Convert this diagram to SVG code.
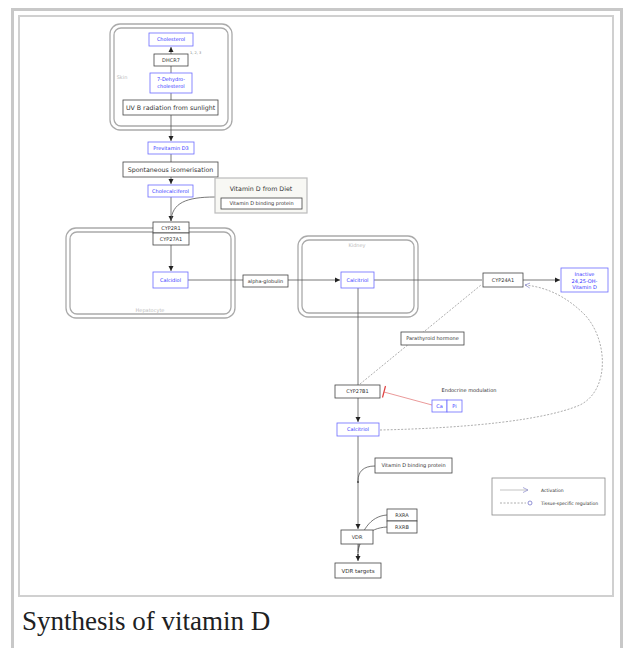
<svg xmlns="http://www.w3.org/2000/svg" width="631" height="648" viewBox="0 0 631 648">
<style>
.bx{fill:#fff;stroke:#444;stroke-width:0.8}
.bl{fill:#fff;stroke:#6b6bff;stroke-width:0.8}
.t{font-family:"DejaVu Sans",sans-serif;font-size:5px;fill:#333;text-anchor:middle}
.tb{font-family:"DejaVu Sans",sans-serif;font-size:5px;fill:#3535ff;text-anchor:middle}
.tl{font-family:"DejaVu Sans",sans-serif;font-size:6.3px;fill:#333;text-anchor:middle}
.cmp{fill:none;stroke:#aaa;stroke-width:1.3}
.cl{font-family:"DejaVu Sans",sans-serif;font-size:5px;fill:#bbb;text-anchor:middle}
.ln{fill:none;stroke:#555;stroke-width:0.8}
.dash{fill:none;stroke:#999;stroke-width:0.8;stroke-dasharray:2,1.5}
</style>
<defs>
<marker id="ah" markerWidth="6" markerHeight="6" refX="5" refY="3" orient="auto" markerUnits="userSpaceOnUse"><path d="M0,0.5 L5,3 L0,5.5 Z" fill="#222"/></marker>
<marker id="oa" markerWidth="7" markerHeight="7" refX="5" refY="3.5" orient="auto" markerUnits="userSpaceOnUse"><path d="M0,1 L5,3.5 L0,6" fill="none" stroke="#8888cc" stroke-width="0.7"/></marker>
</defs>
<rect width="631" height="648" fill="#fff"/>
<rect x="12.5" y="9.5" width="609" height="650" fill="none" stroke="#c8c8c8" stroke-width="3"/>
<rect x="19" y="16" width="594" height="580" fill="none" stroke="#d0d0d0" stroke-width="2"/>
<text x="22" y="630" font-family="Liberation Serif, serif" font-size="27" fill="#202122">Synthesis of vitamin D</text>

<g id="skin">
<rect class="cmp" x="110" y="24" width="122" height="106" rx="10"/>
<rect class="cmp" x="114" y="28" width="114" height="98" rx="7"/>
<text class="cl" x="122" y="79">Skin</text>
</g>
<g id="hepatocyte">
<rect class="cmp" x="66" y="228" width="169" height="90" rx="10"/>
<rect class="cmp" x="70" y="232" width="161" height="82" rx="7"/>
<text class="cl" x="150" y="312">Hepatocyte</text>
</g>
<g id="kidney">
<rect class="cmp" x="298" y="236" width="120" height="81" rx="10"/>
<rect class="cmp" x="302" y="240" width="112" height="73" rx="7"/>
<text class="cl" x="357" y="247">Kidney</text>
</g>

<g id="connectors">
<path class="ln" d="M171,73 V47" marker-end="url(#ah)"/>
<path class="ln" d="M171,93 V141" marker-end="url(#ah)"/>
<path class="ln" d="M171,154 V184" marker-end="url(#ah)"/>
<path class="ln" d="M171,197 V221" marker-end="url(#ah)"/>
<path class="ln" d="M215,197 C186,197 172,203 171,221"/>
<path class="ln" d="M171,245 V271" marker-end="url(#ah)"/>
<path class="ln" d="M188,280 H340" marker-end="url(#ah)"/>
<path class="ln" d="M374,280 H482"/>
<path class="ln" d="M523,280 H560" marker-end="url(#ah)"/>
<path class="ln" d="M358,288 V422" marker-end="url(#ah)"/>
<path class="dash" d="M360,384 L481,285"/>
<path d="M432,405 L384,392" fill="none" stroke="#e57f7f" stroke-width="0.8"/>
<path d="M385.5,386 L382.5,397.5" fill="none" stroke="#e04040" stroke-width="1.2"/>
<path class="dash" d="M380,430 C470,428 545,420 580,405 C610,390 608,340 585,315 C565,295 545,287 525,285" marker-end="url(#oa)"/>
<path class="ln" d="M358,436 V529" marker-end="url(#ah)"/>
<path class="ln" d="M375,466 C363,466 358,472 358,481"/>
<circle cx="358" cy="482" r="0.9" fill="#333"/>
<path class="ln" d="M358,544 V561" marker-end="url(#ah)"/>
<path class="ln" d="M387,515 C370,516 360,532 358,551"/>
<path class="ln" d="M387,527 C368,528 359,540 358,553"/>
<circle cx="358" cy="555" r="0.9" fill="#333"/>
</g>

<g id="cholesterol"><rect class="bl" x="149" y="33" width="44" height="13"/><text class="tb" x="171" y="41.3">Cholesterol</text></g>
<g id="dhcr7"><rect class="bx" x="154" y="54" width="34" height="12"/><text class="t" x="171" y="61.8">DHCR7</text><text x="190" y="54" font-family="DejaVu Sans,sans-serif" font-size="3.5" fill="#777">1, 2, 3</text></g>
<g id="dehydrocholesterol"><rect class="bl" x="150" y="73" width="42" height="20"/><text class="tb" x="171" y="81">7-Dehydro-</text><text class="tb" x="171" y="88">cholesterol</text></g>
<g id="uvb"><rect class="bx" x="123" y="100" width="95" height="15"/><text class="tl" x="170.5" y="110">UV B radiation from sunlight</text></g>
<g id="previtamin"><rect class="bl" x="148" y="142" width="46" height="12"/><text class="tb" x="171" y="150">Previtamin D3</text></g>
<g id="isomerisation"><rect class="bx" x="123" y="162" width="95" height="15"/><text class="tl" x="170.5" y="172">Spontaneous isomerisation</text></g>
<g id="cholecalciferol"><rect class="bl" x="148" y="185" width="45" height="12"/><text class="tb" x="170.5" y="193">Cholecalciferol</text></g>
<g id="diet"><rect x="215" y="178" width="92" height="35" fill="#f8f8f4" stroke="#bbb" stroke-width="1.2"/><text class="tl" x="261" y="191">Vitamin D from Diet</text><rect class="bx" x="221" y="198" width="81" height="11"/><text class="t" x="261.5" y="205.3">Vitamin D binding protein</text></g>
<g id="cyp2r1"><rect class="bx" x="153" y="222" width="36" height="11"/><text class="t" x="171" y="229.5">CYP2R1</text></g>
<g id="cyp27a1"><rect class="bx" x="153" y="233" width="36" height="12"/><text class="t" x="171" y="241">CYP27A1</text></g>
<g id="calcidiol"><rect class="bl" x="153" y="272" width="35" height="16"/><text class="tb" x="170.5" y="281.8">Calcidiol</text></g>
<g id="alphaglobulin"><rect class="bx" x="243" y="275" width="45" height="12"/><text class="t" x="265.5" y="282.8">alpha-globulin</text></g>
<g id="calcitriol1"><rect class="bl" x="341" y="272" width="33" height="16"/><text class="tb" x="357.5" y="281.8">Calcitriol</text></g>
<g id="cyp24a1"><rect class="bx" x="483" y="273" width="40" height="14"/><text class="t" x="503" y="281.8">CYP24A1</text></g>
<g id="inactive"><rect class="bl" x="561" y="268" width="47" height="24"/><text class="tb" x="584.5" y="276">Inactive</text><text class="tb" x="584.5" y="282.5">24,25-OH-</text><text class="tb" x="584.5" y="289">Vitamin D</text></g>
<g id="pth"><rect class="bx" x="401" y="332" width="63" height="13"/><text class="t" x="432.5" y="340.3">Parathyroid hormone</text></g>
<g id="cyp27b1"><rect class="bx" x="335" y="385" width="45" height="13"/><text class="t" x="357.5" y="393.3">CYP27B1</text></g>
<g id="endocrine"><text class="t" x="469" y="392">Endocrine modulation</text></g>
<g id="ca"><rect class="bl" x="432" y="400" width="15" height="12"/><text class="tb" x="439.5" y="407.8">Ca</text></g>
<g id="pi"><rect class="bl" x="447" y="400" width="15" height="12"/><text class="tb" x="454.5" y="407.8">Pi</text></g>
<g id="calcitriol2"><rect class="bl" x="337" y="423" width="42" height="13"/><text class="tb" x="358" y="431.3">Calcitriol</text></g>
<g id="vbp2"><rect class="bx" x="375" y="458" width="77" height="15"/><text class="t" x="413.5" y="467.3">Vitamin D binding protein</text></g>
<g id="vdr"><rect class="bx" x="341" y="530" width="32" height="14"/><text class="t" x="357" y="538.8">VDR</text></g>
<g id="rxra"><rect class="bx" x="387" y="509" width="30" height="12"/><text class="t" x="402" y="516.8">RXRA</text></g>
<g id="rxrb"><rect class="bx" x="387" y="521" width="30" height="12"/><text class="t" x="402" y="528.8">RXRB</text></g>
<g id="vdrtargets"><rect class="bx" x="335" y="563" width="46" height="15"/><text class="t" x="358" y="572.5" style="font-size:5.5px">VDR targets</text></g>
<g id="legend"><rect x="492" y="478" width="113" height="37" fill="#fff" stroke="#888" stroke-width="0.8"/>
<path d="M500,490 H528" fill="none" stroke="#aaa" stroke-width="0.7" marker-end="url(#oa)"/>
<text x="541" y="492" font-family="DejaVu Sans,sans-serif" font-size="4.5" fill="#333">Activation</text>
<path class="dash" d="M500,503 H526"/><circle cx="530" cy="503" r="2" fill="none" stroke="#7777cc" stroke-width="0.8"/>
<text x="541" y="505" font-family="DejaVu Sans,sans-serif" font-size="4.5" fill="#333">Tissue-specific regulation</text>
</g>
</svg>
